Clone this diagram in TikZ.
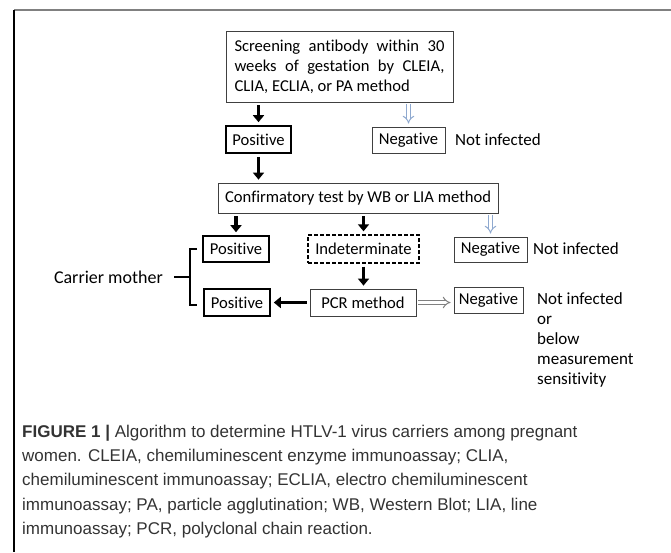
\documentclass[tikz,border=0pt]{standalone}
\usepackage{fontspec}
\setmainfont{Carlito}[Ligatures=NoCommon]
\newfontfamily\capfont{Liberation Sans}
\usetikzlibrary{arrows.meta,positioning}

\definecolor{framegray}{HTML}{808080}
\definecolor{boxgray}{HTML}{404040}
\definecolor{hollowblue}{HTML}{8FA9CF}
\definecolor{captext}{HTML}{333333}

\tikzset{
	box/.style={draw=boxgray, line width=0.8pt, inner sep=2pt, minimum height=27pt, font=\fontsize{16.6}{20}\selectfont},
	posbox/.style={box, draw=black, line width=1.6pt},
	dashbox/.style={box, draw=black, line width=1.4pt, dash pattern=on 4pt off 2pt},
	blk/.style={line width=3.5pt, -{Triangle[width=11pt,length=7pt]}, shorten <=3pt, shorten >=3pt},
	hollow/.style={draw=hollowblue, line width=1pt, double=white, double distance=3pt, -{Implies}, shorten <=2pt, shorten >=3pt},
	note/.style={font=\fontsize{17}{20}\selectfont, inner sep=0pt},
}

\begin{document}
\begin{tikzpicture}[x=1pt, y=-1pt]

	\useasboundingbox (0,0) rectangle (671,552);

	% Draw frame lines.
	\draw[framegray, line width=1.5pt] (14,10) -- (671,10);
	\draw[black, line width=1.2pt] (14,10) -- (14,552);

	% Draw boxes.
	\node[box, text width=210pt, inner xsep=8.5pt, minimum height=71pt, align=justify] (screen) at (339.5,66.5)
		{Screening antibody within 30\linebreak weeks of gestation by CLEIA,\linebreak CLIA, ECLIA, or PA method};
	\node[posbox, minimum width=65pt] (pos1) at (258.5,139.5) {Positive};
	\node[box, minimum width=73pt, minimum height=26pt] (neg1) at (408.5,140) {Negative};
	\node[box, minimum width=280pt, minimum height=30pt] (conf) at (358,198) {Confirmatory test by WB or LIA method};
	\node[posbox, minimum width=66pt, minimum height=26pt] (pos2) at (236,249) {Positive};
	\node[dashbox, minimum width=111pt, minimum height=28pt] (indet) at (363.5,249) {Indeterminate};
	\node[box, minimum width=73pt, minimum height=25pt] (neg2) at (490.5,249.5) {Negative};
	\node[box, minimum width=106pt] (pcr) at (363,302.5) {PCR method};
	\node[posbox, minimum width=66pt] (pos3) at (237,302.5) {Positive};
	\node[box, minimum width=69pt, minimum height=26pt] (neg3) at (488.5,300) {Negative};

	% Draw notes.
	\node[note, anchor=west] (ninf1) at (455,140) {Not infected};
	\node[note, anchor=west] (ninf2) at (533,249) {Not infected};
	\node[note, anchor=east, font=\fontsize{18}{20}\selectfont] (carrier) at (163,277) {Carrier mother};
	\node[note, anchor=north west, align=left] (ninf3) at (537,292)
		{Not infected\\ or\\ below\\ measurement\\ sensitivity};

	% Draw arrows.
	\draw[blk] (screen.south -| pos1.north) -- (pos1.north);
	\draw[hollow] (screen.south -| neg1.north) -- (neg1.north);
	\draw[blk] (pos1.south) -- (conf.north -| pos1.south);
	\draw[blk] (conf.south -| pos2.north) -- (pos2.north);
	\draw[blk] (conf.south -| indet.north) -- (indet.north);
	\draw[hollow] (conf.south -| neg2.north) -- (neg2.north);
	\draw[blk] (indet.south) -- (pcr.north -| indet.south);
	\draw[blk] (pcr.west) -- (pos3.east);
	\draw[hollow, draw=gray] (pcr.east) -- (pcr.east -| neg3.west);

	% Draw bracket.
	\coordinate (brtop) at (197,249);
	\coordinate (brbot) at (197,305);
	\coordinate (brmid) at (190,277);
	\draw[line width=1.2pt] (brtop) -- ++(-7,0) -- ++(0,56) -- (brbot);
	\draw[line width=1.2pt] ([xshift=11pt]carrier.east) -- (brmid);

	% Draw caption.
	\node[anchor=north west, inner sep=0pt, align=left, text=captext,
		font=\capfont\fontsize{17}{24.2}\selectfont] (caption) at (22,425)
		{\textbf{FIGURE 1 |} Algorithm to determine HTLV-1 virus carriers among pregnant\\
		women. CLEIA, chemiluminescent enzyme immunoassay; CLIA,\\
		chemiluminescent immunoassay; ECLIA, electro chemiluminescent\\
		immunoassay; PA, particle agglutination; WB, Western Blot; LIA, line\\
		immunoassay; PCR, polyclonal chain reaction.};

\end{tikzpicture}
\end{document}
